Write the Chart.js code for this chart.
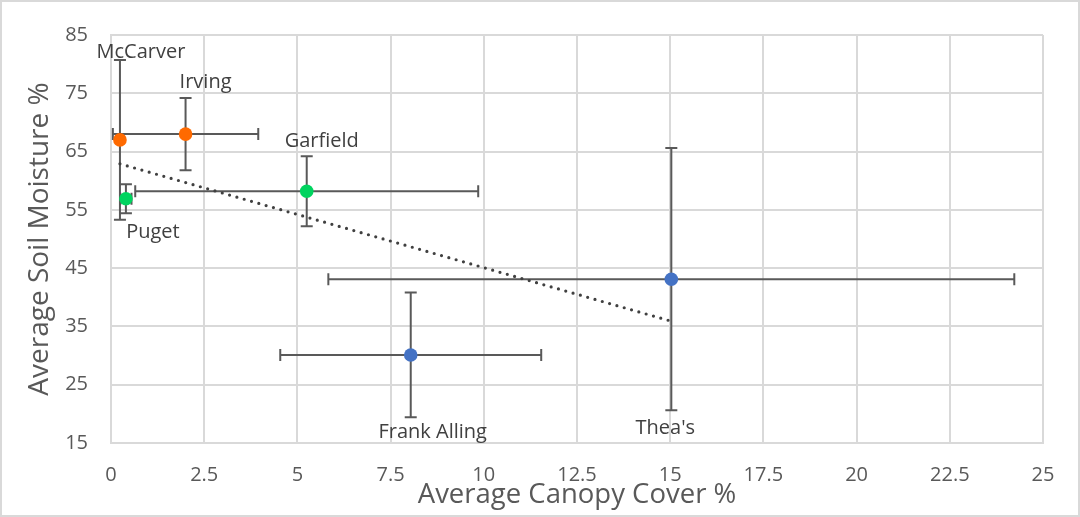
<!DOCTYPE html>
<html lang="en">
<head>
    <meta charset="UTF-8">
    <title>Soil Moisture vs Canopy Cover</title>
    <script src="https://cdn.jsdelivr.net/npm/chart.js"></script>
    <style>
        html, body { margin: 0; padding: 0; background: #fff; }
        canvas { display: block; }
    </style>
</head>
<body>
    <canvas id="scatterChart" width="1080" height="517"></canvas>
    <script>
        // Data
        const sites = ['McCarver', 'Irving', 'Puget', 'Garfield', 'Frank Alling', "Thea's"];
        const canopy = [0.24, 2.0, 0.4, 5.25, 8.04, 15.03];
        const moisture = [67.0, 68.0, 56.9, 58.2, 30.1, 43.1];
        const canopyErr = [0.05, 1.95, 0.15, 4.6, 3.5, 9.2];
        const moistureErr = [13.7, 6.2, 2.5, 6.0, 10.7, 22.5];
        const pointColors = ['#ff6a00', '#ff6a00', '#00d45f', '#00d45f', '#4472c4', '#4472c4'];

        // Trendline end points (as drawn in the reference)
        const trendX = [0.24, 15.03];
        const trendY = [62.9, 35.9];

        // Axis ranges
        const xMin = 0, xMax = 25, xStep = 2.5;
        const yMin = 15, yMax = 85, yStep = 10;

        // label placement (pixels from point to text centre / baseline)
        const labelOffsets = [[21, -82], [20, -46], [27, 39], [15, -44], [22, 83], [-6, 155]];

        const errorBars = {
            id: 'errorBars',
            beforeDatasetsDraw(chart) {
                const { ctx, scales: { x, y } } = chart;
                const cap = 6;
                ctx.save();
                ctx.strokeStyle = '#595959';
                ctx.lineWidth = 2;
                canopy.forEach((cx, i) => {
                    const px = x.getPixelForValue(cx);
                    const py = y.getPixelForValue(moisture[i]);
                    const xl = x.getPixelForValue(cx - canopyErr[i]);
                    const xr = x.getPixelForValue(cx + canopyErr[i]);
                    const yt = y.getPixelForValue(moisture[i] + moistureErr[i]);
                    const yb = y.getPixelForValue(moisture[i] - moistureErr[i]);
                    ctx.beginPath();
                    // horizontal
                    ctx.moveTo(xl, py); ctx.lineTo(xr, py);
                    ctx.moveTo(xl, py - cap); ctx.lineTo(xl, py + cap);
                    ctx.moveTo(xr, py - cap); ctx.lineTo(xr, py + cap);
                    // vertical
                    ctx.moveTo(px, yt); ctx.lineTo(px, yb);
                    ctx.moveTo(px - cap, yt); ctx.lineTo(px + cap, yt);
                    ctx.moveTo(px - cap, yb); ctx.lineTo(px + cap, yb);
                    ctx.stroke();
                });
                ctx.restore();
            }
        };

        const pointLabels = {
            id: 'pointLabels',
            afterDatasetsDraw(chart) {
                const { ctx, scales: { x, y } } = chart;
                ctx.save();
                ctx.font = '20px "Open Sans"';
                ctx.fillStyle = '#404040';
                ctx.textAlign = 'center';
                ctx.textBaseline = 'alphabetic';
                sites.forEach((name, i) => {
                    const px = x.getPixelForValue(canopy[i]);
                    const py = y.getPixelForValue(moisture[i]);
                    ctx.fillText(name, px + labelOffsets[i][0], py + labelOffsets[i][1]);
                });
                ctx.restore();
            }
        };

        const frame = {
            id: 'frame',
            beforeDraw(chart) {
                const { ctx, width, height } = chart;
                ctx.save();
                ctx.fillStyle = '#fff';
                ctx.fillRect(0, 0, width, height);
                ctx.restore();
            },
            afterDraw(chart) {
                const { ctx, width, height } = chart;
                ctx.save();
                ctx.strokeStyle = '#d9d9d9';
                ctx.lineWidth = 2;
                ctx.strokeRect(1, 1, width - 2, height - 2);
                ctx.restore();
            }
        };

        const ctx = document.getElementById('scatterChart').getContext('2d');
        const chart = new Chart(ctx, {
            type: 'scatter',
            data: {
                datasets: [
                    {
                        label: 'Sites',
                        data: canopy.map((v, i) => ({ x: v, y: moisture[i] })),
                        pointBackgroundColor: pointColors,
                        pointBorderColor: pointColors,
                        pointBorderWidth: 0,
                        pointRadius: 6.8,
                        order: 1
                    },
                    {
                        type: 'line',
                        label: 'Trend',
                        data: trendX.map((v, i) => ({ x: v, y: trendY[i] })),
                        borderColor: '#404040',
                        borderWidth: 3.2,
                        borderDash: [0, 7.6],
                        borderCapStyle: 'round',
                        pointRadius: 0,
                        fill: false,
                        order: 2
                    }
                ]
            },
            options: {
                responsive: false,
                animation: false,
                layout: { padding: { top: 35, right: 37, left: 0, bottom: 0 } },
                plugins: {
                    legend: { display: false },
                    tooltip: { enabled: false }
                },
                scales: {
                    x: {
                        type: 'linear',
                        min: xMin,
                        max: xMax,
                        ticks: {
                            stepSize: xStep,
                            padding: 20,
                            color: '#595959',
                            font: { family: 'Open Sans', size: 20 },
                            maxRotation: 0
                        },
                        grid: { color: '#d9d9d9', lineWidth: 2, drawTicks: false },
                        border: { display: true, color: '#d9d9d9', width: 2 },
                        title: {
                            display: true,
                            text: 'Average Canopy Cover %',
                            color: '#595959',
                            font: { family: 'Open Sans', size: 27.5 },
                            padding: { top: 0, bottom: 5 }
                        },
                        afterFit(scale) {
                            scale.height = 74;
                            scale.paddingLeft = 0;
                            scale.paddingRight = 0;
                        }
                    },
                    y: {
                        type: 'linear',
                        min: yMin,
                        max: yMax,
                        ticks: {
                            stepSize: yStep,
                            padding: 23,
                            color: '#595959',
                            font: { family: 'Open Sans', size: 20 }
                        },
                        grid: { color: '#d9d9d9', lineWidth: 2, drawTicks: false },
                        border: { display: true, color: '#d9d9d9', width: 2 },
                        title: {
                            display: true,
                            text: 'Average Soil Moisture %',
                            color: '#595959',
                            font: { family: 'Open Sans', size: 28 },
                            padding: { top: 23, bottom: 0 }
                        },
                        afterFit(scale) {
                            scale.width = 111;
                            scale.paddingTop = 0;
                            scale.paddingBottom = 0;
                        }
                    }
                }
            },
            plugins: [frame, errorBars, pointLabels]
        });
    </script>
</body>
</html>
